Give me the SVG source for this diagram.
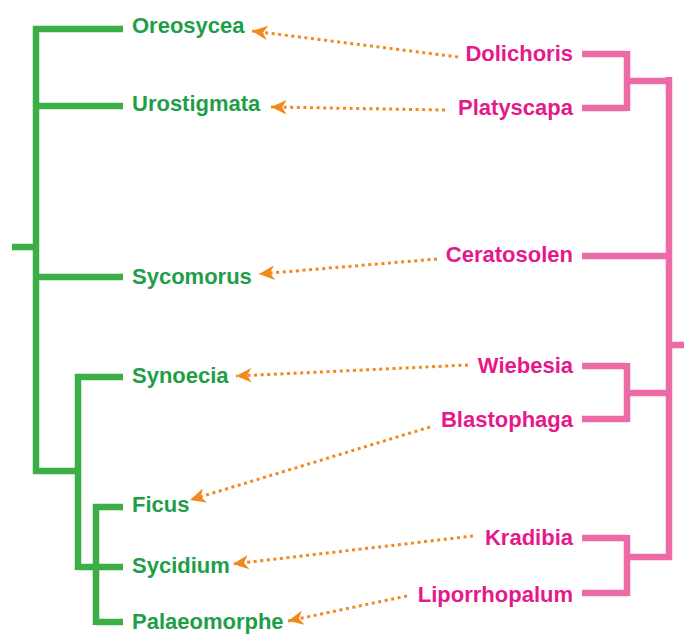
<svg xmlns="http://www.w3.org/2000/svg" width="684" height="635" viewBox="0 0 684 635">
<defs>
<style>
.g{fill:none;stroke:#3cae46;stroke-width:6.5;stroke-linecap:butt;stroke-linejoin:miter}
.p{fill:none;stroke:#ec6aa5;stroke-width:6.5;stroke-linecap:butt;stroke-linejoin:miter}
.a{fill:none;stroke:#f08a1f;stroke-width:3;stroke-dasharray:3 3.6;marker-end:url(#ah)}
.gt{font-family:"Liberation Sans",Arial,sans-serif;font-weight:bold;font-size:22px;fill:#1f9e4a}
.pt{font-family:"Liberation Sans",Arial,sans-serif;font-weight:bold;font-size:22px;fill:#e6198b;text-anchor:end}
</style>
<marker id="ah" markerUnits="userSpaceOnUse" markerWidth="20" markerHeight="20" viewBox="-16 -8 18 16" refX="0" refY="0" orient="auto">
<path d="M0,0 L-14,-6.5 L-10,0 L-14,6.5 Z" fill="#f08a1f"/>
</marker>
</defs>
<rect width="684" height="635" fill="#ffffff"/>
<g id="host-tree">
<path class="g" d="M12,247 H36 M36,26 V474 M33,29 H123 M36,106 H123 M36,277 H123 M33,471 H81 M78,374 V570 M75,377 H123 M78,567 H123 M96,504 V625 M93,507 H123 M96,622 H123"/>
</g>
<g id="wasp-tree">
<path class="p" d="M684,345 H669 M669,77 V560 M582,54 H627 M627,51 V111 M582,108 H627 M627,81 H672 M582,256 H669 M582,366 H627 M627,363 V422 M582,419 H627 M627,393 H669 M582,538 H627 M627,535 V596 M582,593 H627 M627,557 H672"/>
</g>
<g id="Oreosycea"><text class="gt" x="132" y="33">Oreosycea</text></g>
<g id="Urostigmata"><text class="gt" x="132" y="111">Urostigmata</text></g>
<g id="Sycomorus"><text class="gt" x="132" y="284">Sycomorus</text></g>
<g id="Synoecia"><text class="gt" x="132" y="383">Synoecia</text></g>
<g id="Ficus"><text class="gt" x="132" y="512">Ficus</text></g>
<g id="Sycidium"><text class="gt" x="132" y="573">Sycidium</text></g>
<g id="Palaeomorphe"><text class="gt" x="132" y="629">Palaeomorphe</text></g>
<g id="Dolichoris"><text class="pt" x="573" y="61">Dolichoris</text></g>
<g id="Platyscapa"><text class="pt" x="573" y="115">Platyscapa</text></g>
<g id="Ceratosolen"><text class="pt" x="573" y="262">Ceratosolen</text></g>
<g id="Wiebesia"><text class="pt" x="573" y="373">Wiebesia</text></g>
<g id="Blastophaga"><text class="pt" x="573" y="427">Blastophaga</text></g>
<g id="Kradibia"><text class="pt" x="573" y="545">Kradibia</text></g>
<g id="Liporrhopalum"><text class="pt" x="573" y="602">Liporrhopalum</text></g>
<g id="connectors">
<line class="a" x1="458" y1="57" x2="252" y2="31"/>
<line class="a" x1="445" y1="110" x2="271" y2="107"/>
<line class="a" x1="437" y1="259" x2="259" y2="274"/>
<line class="a" x1="468" y1="365" x2="236" y2="376"/>
<line class="a" x1="430" y1="427" x2="190" y2="500"/>
<line class="a" x1="473" y1="536" x2="233" y2="564"/>
<line class="a" x1="407" y1="596" x2="288" y2="621"/>
</g>
</svg>
